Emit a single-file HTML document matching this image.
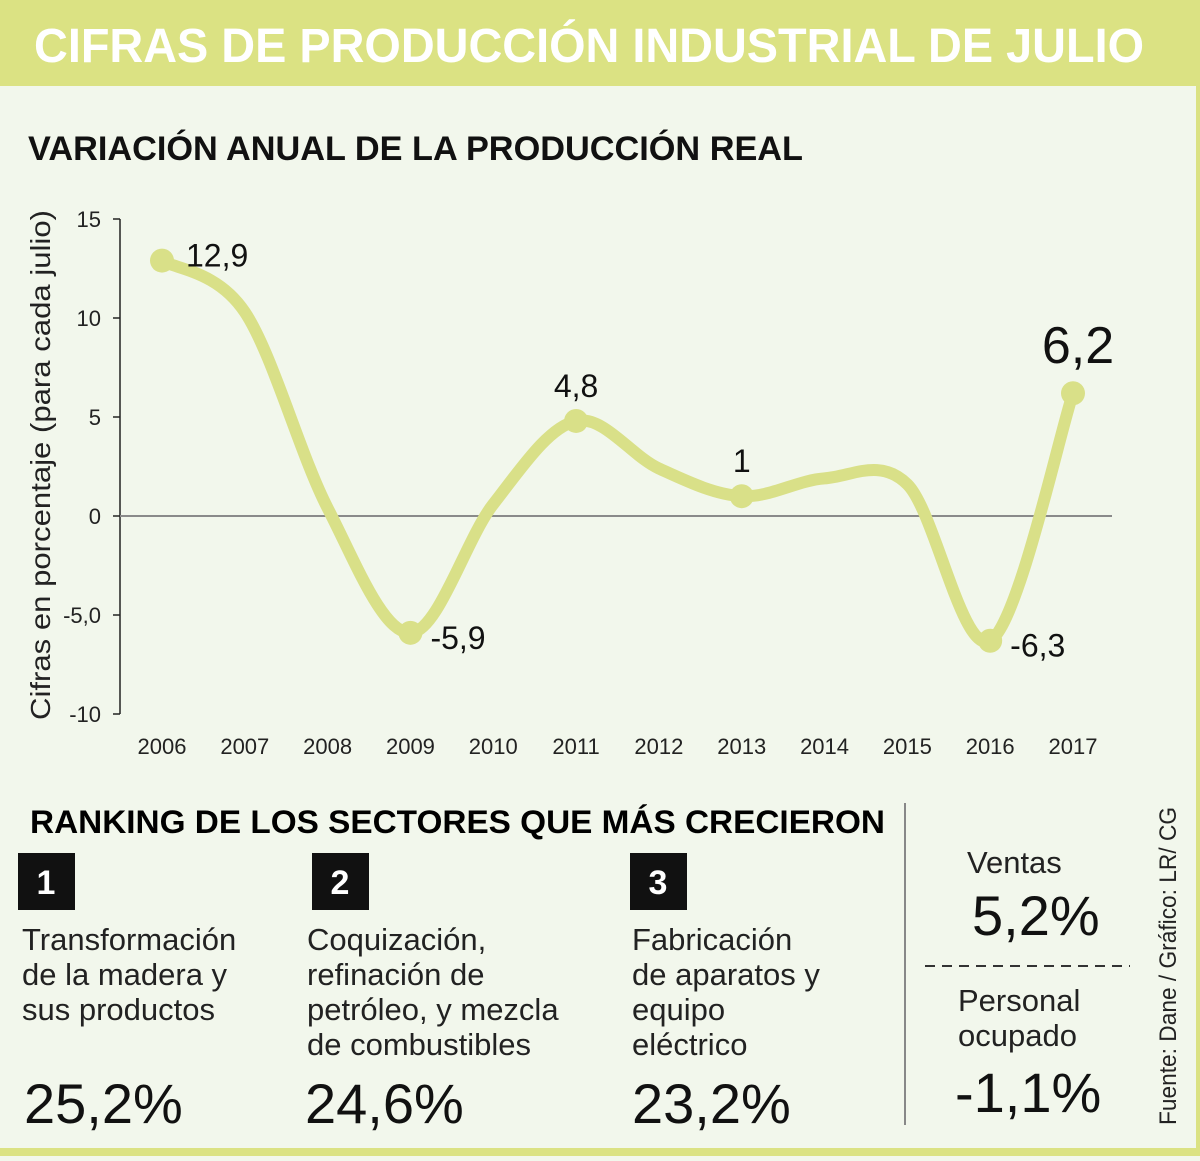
<!DOCTYPE html>
<html><head><meta charset="utf-8">
<style>
html,body{margin:0;padding:0}
body{width:1200px;height:1156px;background:#f2f7ec;position:relative;overflow:hidden;font-family:"Liberation Sans",sans-serif;color:#111}
svg text{font-family:"Liberation Sans",sans-serif}
</style></head>
<body>
<svg width="1200" height="1156" viewBox="0 0 1200 1156">
<rect x="0" y="0" width="1200" height="1156" fill="#f2f7ec"/>
<rect x="0" y="0" width="1200" height="86" fill="#dbe283"/>
<rect x="1196" y="0" width="4" height="1156" fill="#dbe283"/>
<rect x="0" y="1148" width="1200" height="8" fill="#dbe283"/>
<text x="34" y="62" font-size="48" font-weight="bold" fill="#fff" textLength="1110" lengthAdjust="spacingAndGlyphs">CIFRAS DE PRODUCCIÓN INDUSTRIAL DE JULIO</text>
<text x="28" y="160" font-size="34" font-weight="bold" fill="#111" textLength="775" lengthAdjust="spacingAndGlyphs">VARIACIÓN ANUAL DE LA PRODUCCIÓN REAL</text>
<text transform="translate(50,465) rotate(-90)" text-anchor="middle" font-size="28" fill="#222" textLength="510" lengthAdjust="spacingAndGlyphs">Cifras en porcentaje (para cada julio)</text>
<g id="chart"></g>

<text x="30" y="833" font-size="32" font-weight="bold" textLength="855" lengthAdjust="spacingAndGlyphs">RANKING DE LOS SECTORES QUE MÁS CRECIERON</text>
<g>
<rect x="18" y="853" width="57" height="57" fill="#111"/>
<text x="46" y="894" font-size="34" font-weight="bold" fill="#fff" text-anchor="middle">1</text>
<text font-size="31" fill="#222"><tspan x="22" y="950">Transformación</tspan><tspan x="22" y="985">de la madera y</tspan><tspan x="22" y="1020">sus productos</tspan></text>
<text x="24" y="1123" font-size="56" fill="#111">25,2%</text>
</g>
<g>
<rect x="312" y="853" width="57" height="57" fill="#111"/>
<text x="340" y="894" font-size="34" font-weight="bold" fill="#fff" text-anchor="middle">2</text>
<text font-size="31" fill="#222"><tspan x="307" y="950">Coquización,</tspan><tspan x="307" y="985">refinación de</tspan><tspan x="307" y="1020">petróleo, y mezcla</tspan><tspan x="307" y="1055">de combustibles</tspan></text>
<text x="305" y="1123" font-size="56" fill="#111">24,6%</text>
</g>
<g>
<rect x="630" y="853" width="57" height="57" fill="#111"/>
<text x="658" y="894" font-size="34" font-weight="bold" fill="#fff" text-anchor="middle">3</text>
<text font-size="31" fill="#222"><tspan x="632" y="950">Fabricación</tspan><tspan x="632" y="985">de aparatos y</tspan><tspan x="632" y="1020">equipo</tspan><tspan x="632" y="1055">eléctrico</tspan></text>
<text x="632" y="1123" font-size="56" fill="#111">23,2%</text>
</g>
<line x1="905" y1="803" x2="905" y2="1125" stroke="#888" stroke-width="2"/>
<text x="967" y="873" font-size="31" fill="#222">Ventas</text>
<text x="972" y="935" font-size="56" fill="#111">5,2%</text>
<line x1="925" y1="966" x2="1130" y2="966" stroke="#333" stroke-width="2" stroke-dasharray="10,7"/>
<text font-size="31" fill="#222"><tspan x="958" y="1011">Personal</tspan><tspan x="958" y="1046">ocupado</tspan></text>
<text x="955" y="1112" font-size="56" fill="#111">-1,1%</text>
<text transform="translate(1176,1125) rotate(-90)" font-size="24" fill="#222" textLength="318" lengthAdjust="spacingAndGlyphs">Fuente: Dane / Gráfico: LR/ CG</text>
</svg>
<script>
const years = ["2006","2007","2008","2009","2010","2011","2012","2013","2014","2015","2016","2017"];
const values = [12.9, 10.3, 0.4, -5.9, 0.6, 4.8, 2.4, 1.0, 1.9, 1.6, -6.3, 6.2];
const yTicks = [15, 10, 5, 0, -5, -10];
const yTickLabels = ["15","10","5","0","-5,0","-10"];
const labeled = {0:"12,9",3:"-5,9",5:"4,8",7:"1",10:"-6,3",11:"6,2"};

const NS = "http://www.w3.org/2000/svg";
const g = document.getElementById("chart");
const xS = i => 162 + i * (1073 - 162) / (years.length - 1);
const yS = v => 516 - v * 19.8;
function mk(tag, attrs, text){ const e=document.createElementNS(NS,tag); for(const k in attrs) e.setAttribute(k,attrs[k]); if(text!==undefined) e.textContent=text; g.appendChild(e); return e; }

let e = mk("line",{x1:120,y1:yS(15),x2:120,y2:yS(-10),stroke:"#222","stroke-width":1.5});


yTicks.forEach((t,i)=>{
  let tk = mk("line",{x1:113,y1:yS(t),x2:120,y2:yS(t),stroke:"#222","stroke-width":1.5});
  
  
  let tl = mk("text",{x:101,y:yS(t)+8,"font-size":22,"text-anchor":"end",fill:"#222"}, yTickLabels[i]);
  
  
});
e = mk("line",{x1:120,y1:yS(0),x2:1112,y2:yS(0),stroke:"#8a8a8a","stroke-width":2});


years.forEach((y,i)=>{
  let t = mk("text",{x:xS(i),y:754,"font-size":22,"text-anchor":"middle",fill:"#222"}, y);
  
  
});
const pts = values.map((v,i)=>[xS(i),yS(v)]);
let d = "M"+pts[0][0]+","+pts[0][1];
for(let i=0;i<pts.length-1;i++){
  const p0=pts[Math.max(0,i-1)],p1=pts[i],p2=pts[i+1],p3=pts[Math.min(pts.length-1,i+2)];
  const c1=[p1[0]+(p2[0]-p0[0])/6,p1[1]+(p2[1]-p0[1])/6];
  const c2=[p2[0]-(p3[0]-p1[0])/6,p2[1]-(p3[1]-p1[1])/6];
  d+=` C${c1[0]},${c1[1]} ${c2[0]},${c2[1]} ${p2[0]},${p2[1]}`;
}
e = mk("path",{d:d,fill:"none",stroke:"#d9e088","stroke-width":12,"stroke-linecap":"round","stroke-linejoin":"round"});


Object.keys(labeled).forEach(k=>{
  const i=+k;
  let c = mk("circle",{cx:xS(i),cy:yS(values[i]),r:12,fill:"#d9e088"});
  
  
  let x=xS(i), y=yS(values[i]), fs=32, anchor="start";
  if(i===0){x+=24;y+=6;}
  else if(values[i]<0){x+=20;y+=16;}
  else if(i===11){anchor="middle";y-=30;fs=52;x+=5;}
  else {anchor="middle";y-=24;}
  let t = mk("text",{x:x,y:y,"font-size":fs,"text-anchor":anchor,fill:"#111"}, labeled[k]);
  
  
});
</script>
</body></html>
